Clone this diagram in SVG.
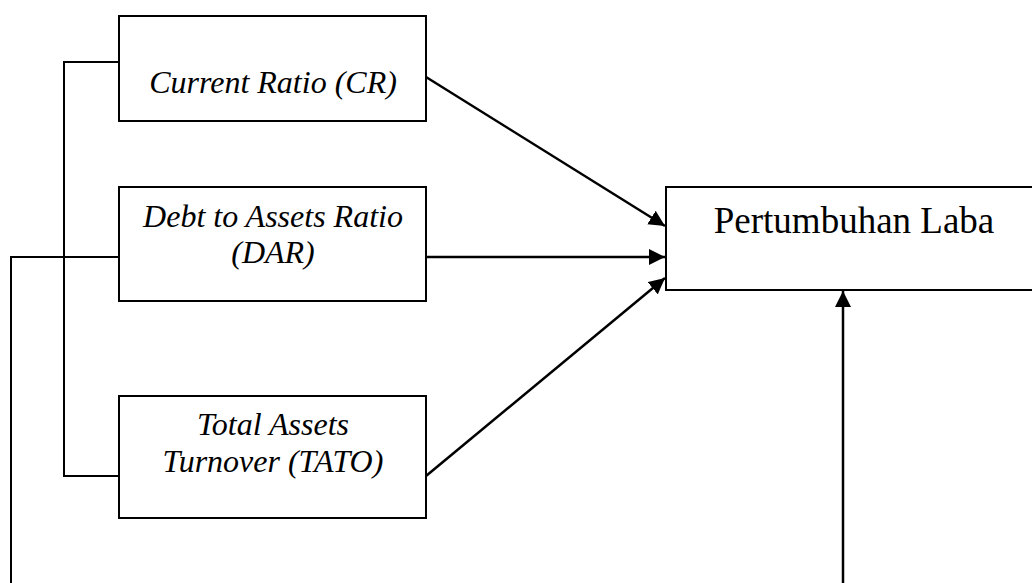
<svg xmlns="http://www.w3.org/2000/svg" width="1032" height="583" viewBox="0 0 1032 583">
<style>
.box{fill:#fff;stroke:#000;stroke-width:2}
.ln{fill:none;stroke:#000;stroke-width:2}
.ar{fill:none;stroke:#000;stroke-width:2.5}
.it{font-family:"Liberation Serif","Times New Roman",serif;font-style:italic;font-size:32px;fill:#000;text-anchor:middle}
.rg{font-family:"Liberation Serif","Times New Roman",serif;font-size:37px;fill:#000;text-anchor:middle}
</style>
<defs>
<marker id="ahb" viewBox="0 0 10 10" refX="10" refY="5" markerWidth="16" markerHeight="16" markerUnits="userSpaceOnUse" orient="auto">
<path d="M0,0 L10,5 L0,10 z" fill="#000"/>
</marker>
</defs>
<g id="connectors">
<polyline class="ln" points="119,62 64,62 64,476 119,476"/>
<polyline class="ln" points="119,257 11,257 11,583"/>
<line class="ar" x1="426" y1="77" x2="665" y2="226" marker-end="url(#ahb)"/>
<line class="ar" x1="426" y1="257" x2="665" y2="257" marker-end="url(#ahb)"/>
<line class="ar" x1="426" y1="476" x2="665" y2="278" marker-end="url(#ahb)"/>
<line class="ar" x1="843" y1="583" x2="843" y2="291" marker-end="url(#ahb)"/>
</g>
<g id="node-cr">
<rect class="box" x="119" y="16" width="307" height="105"/>
<text class="it" x="273" y="93">Current Ratio (CR)</text>
</g>
<g id="node-dar">
<rect class="box" x="119" y="187" width="307" height="114"/>
<text class="it" x="273" y="227">Debt to Assets Ratio</text>
<text class="it" x="273" y="263">(DAR)</text>
</g>
<g id="node-tato">
<rect class="box" x="119" y="396" width="307" height="122"/>
<text class="it" x="273" y="435">Total Assets</text>
<text class="it" x="273" y="472">Turnover (TATO)</text>
</g>
<g id="node-laba">
<rect class="box" x="666" y="187" width="380" height="103"/>
<text class="rg" x="854" y="233">Pertumbuhan Laba</text>
</g>
</svg>
